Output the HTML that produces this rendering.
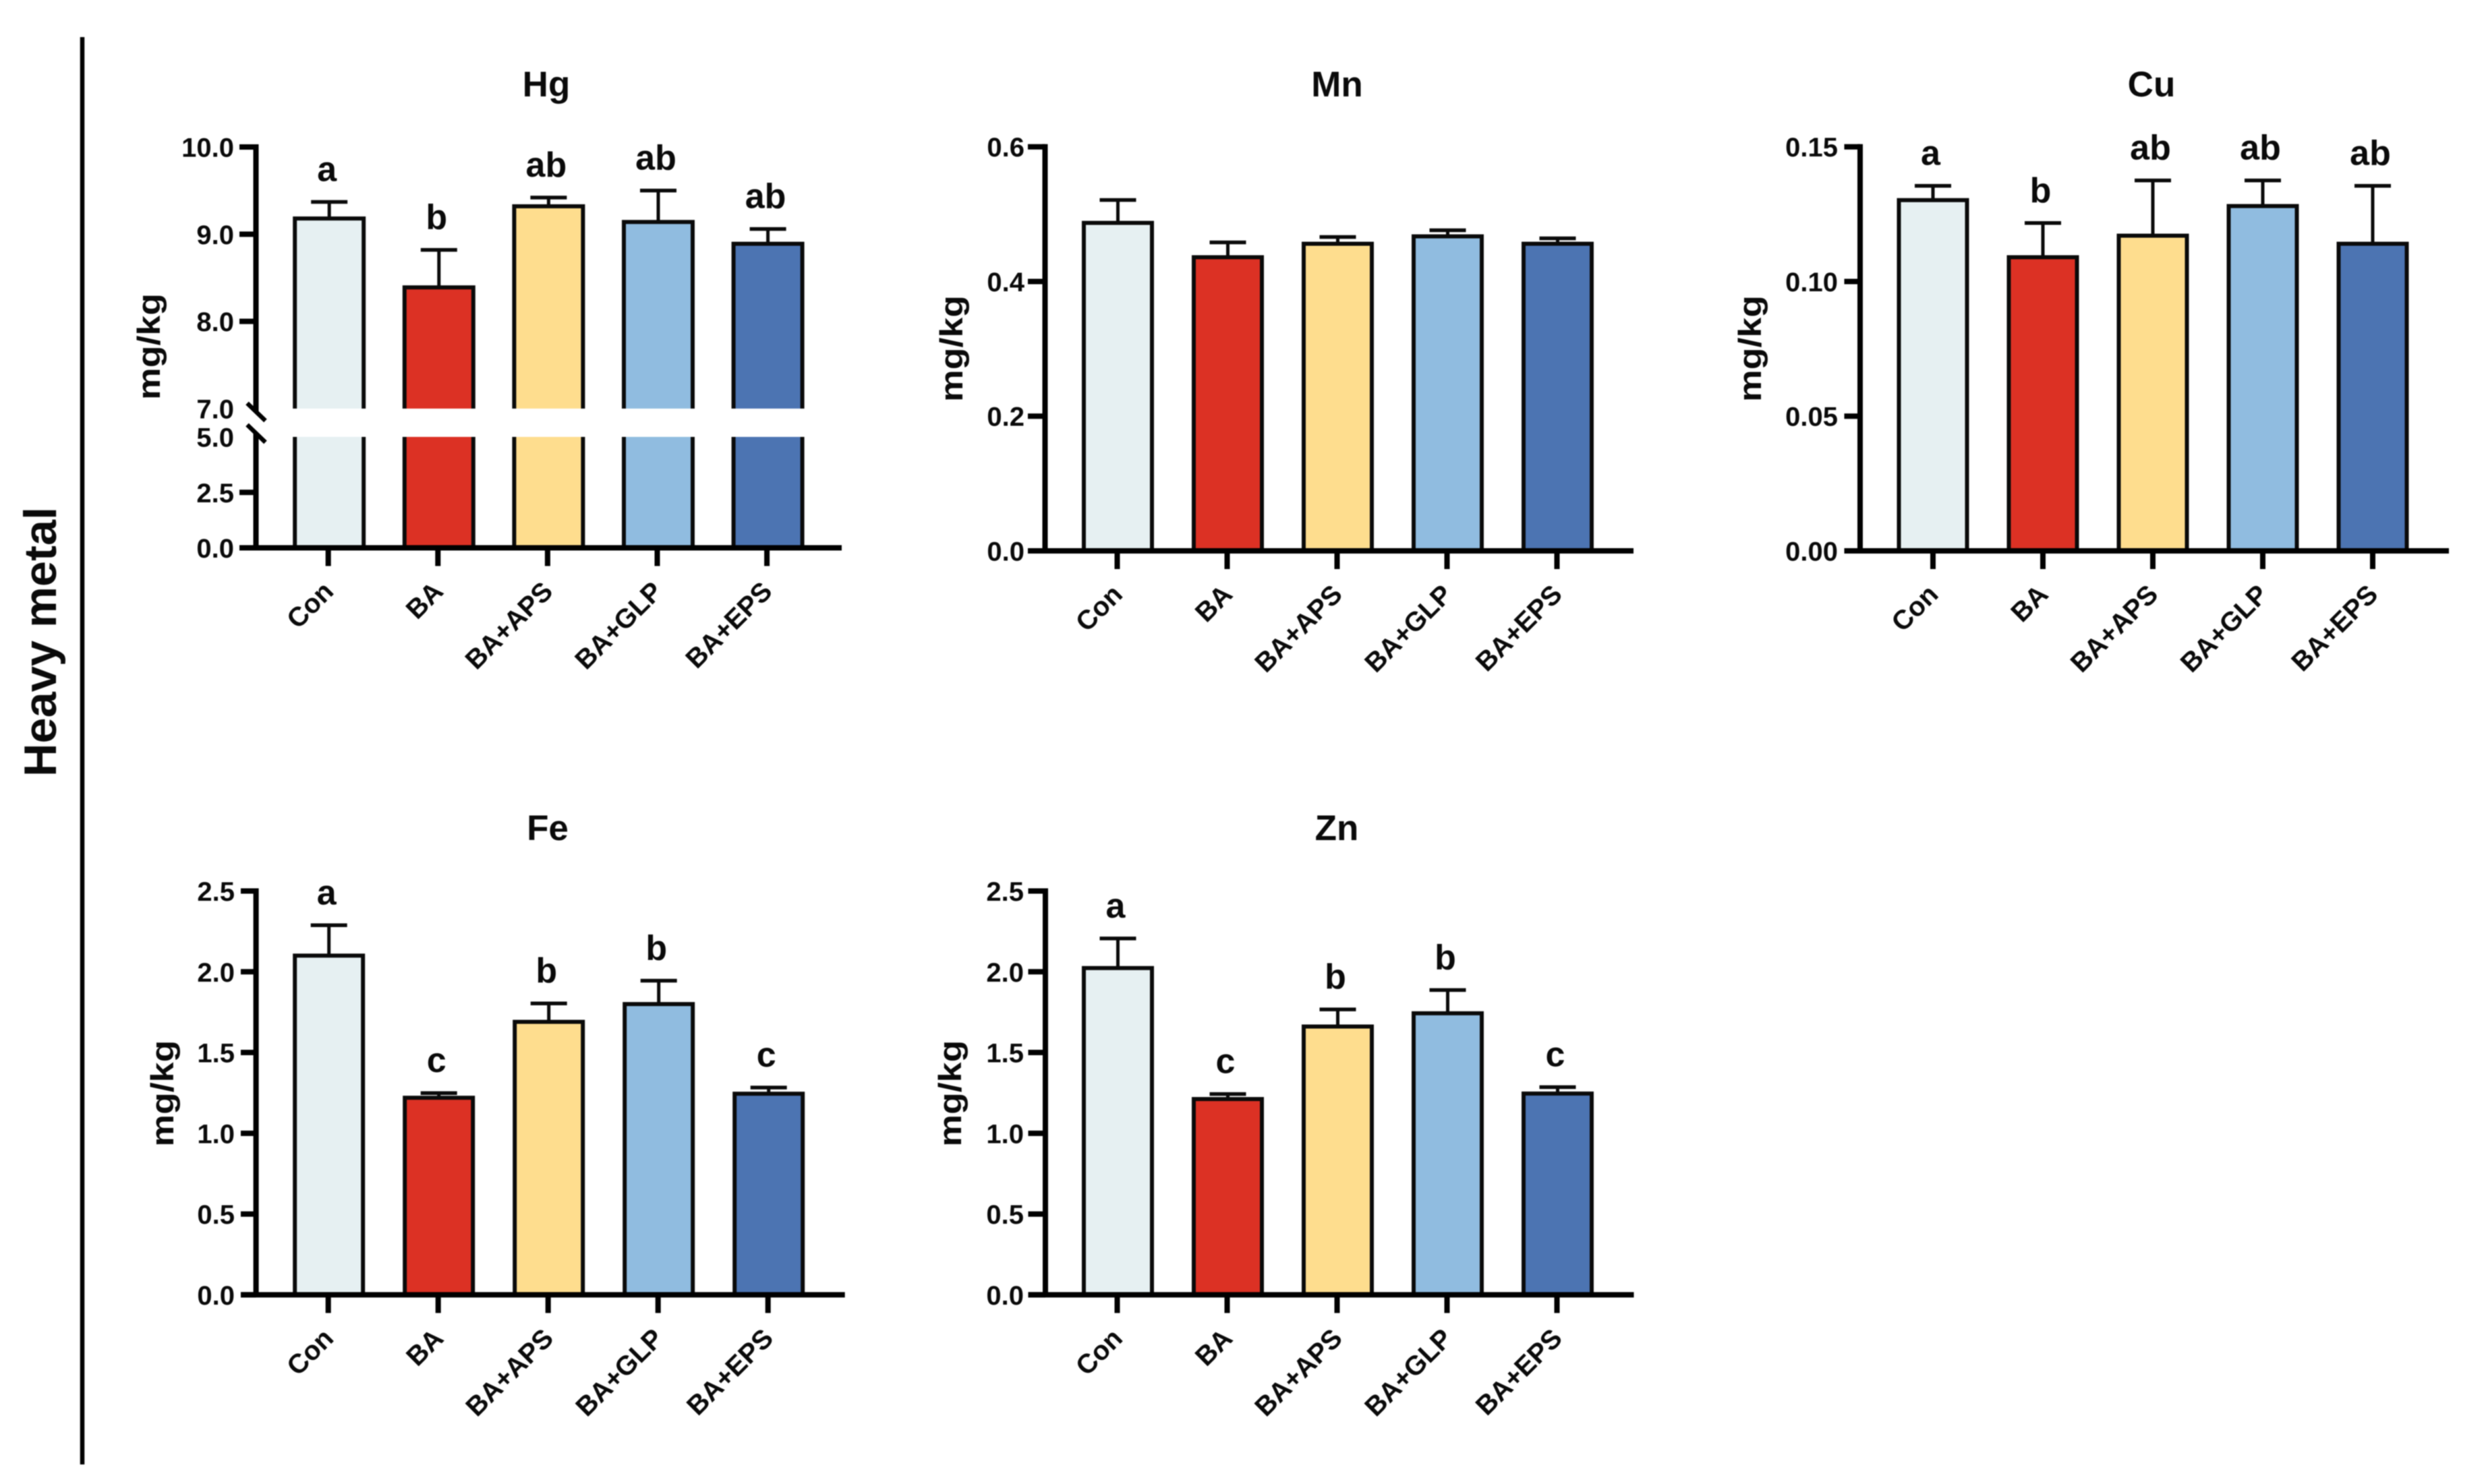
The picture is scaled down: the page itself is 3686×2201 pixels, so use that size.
<!DOCTYPE html>
<html lang="en">
<head>
<meta charset="utf-8">
<title>Heavy metal</title>
<style>
  html, body { margin: 0; padding: 0; background: #fff; }
  #figure { display: block; filter: blur(0.9px); font-family: "Liberation Sans", sans-serif; }
  text { font-family: "Liberation Sans", sans-serif; font-weight: bold; fill: #0a0a0a; }
</style>
</head>
<body>
<svg id="figure" xmlns="http://www.w3.org/2000/svg" width="3686" height="2201" viewBox="0 0 3686 2201">
  <rect width="3686" height="2201" fill="#fff"/>
  <line x1="122" y1="55" x2="122" y2="2172" stroke="#000" stroke-width="6.5"/>
  <text transform="translate(83 952) rotate(-90)" text-anchor="middle" font-size="68" textLength="400" lengthAdjust="spacingAndGlyphs">Heavy metal</text>
</svg>
<script>
const categories = ['Con', 'BA', 'BA+APS', 'BA+GLP', 'BA+EPS'];
const barColors = ['#e6f0f2', '#dc3124', '#fedd8e', '#90bce0', '#4c74b2'];

const hgMeans = [9.18, 8.39, 9.32, 9.14, 8.89];
const hgErrors = [0.19, 0.43, 0.10, 0.36, 0.17];
const hgLetters = ['a', 'b', 'ab', 'ab', 'ab'];
const hgTicks = ['0.0', '2.5', '5.0', '7.0', '8.0', '9.0', '10.0'];

const mnMeans = [0.487, 0.436, 0.456, 0.467, 0.456];
const mnErrors = [0.034, 0.022, 0.010, 0.009, 0.008];
const mnLetters = ['', '', '', '', ''];
const mnTicks = ['0.0', '0.2', '0.4', '0.6'];

const cuMeans = [0.1302, 0.109, 0.117, 0.128, 0.114];
const cuErrors = [0.0053, 0.0127, 0.0205, 0.0095, 0.0215];
const cuLetters = ['a', 'b', 'ab', 'ab', 'ab'];
const cuTicks = ['0.00', '0.05', '0.10', '0.15'];

const feMeans = [2.10, 1.22, 1.69, 1.80, 1.245];
const feErrors = [0.188, 0.029, 0.114, 0.145, 0.038];
const feLetters = ['a', 'c', 'b', 'b', 'c'];
const feTicks = ['0.0', '0.5', '1.0', '1.5', '2.0', '2.5'];

const znMeans = [2.023, 1.212, 1.661, 1.743, 1.246];
const znErrors = [0.183, 0.031, 0.106, 0.144, 0.040];
const znLetters = ['a', 'c', 'b', 'b', 'c'];
const znTicks = ['0.0', '0.5', '1.0', '1.5', '2.0', '2.5'];

const SVG_NS = 'http://www.w3.org/2000/svg';
const root = document.getElementById('figure');

function linearY(vMax, yZero, yTop) {
  return function (v) { return yZero - (v / vMax) * (yZero - yTop); };
}
function brokenY(v) {
  if (v <= 5) return 812.5 - (v / 5) * (812.5 - 648);
  return 606 - ((v - 7) / 3) * (606 - 218);
}

const panels = [
  { key: 'hg', title: 'Hg', means: hgMeans, errors: hgErrors, letters: hgLetters, ticks: hgTicks,
    y: brokenY, axisX: 379.5, axisY: 812.5, left: 355, right: 1248, topY: 218, first: 486.7, step: 162.6, barW: 108, barShift: 1.5,
    titleX: 810, titleY: 143, unitX: 237, unitY: 514, labelRight: 347, broken: true },
  { key: 'mn', title: 'Mn', means: mnMeans, errors: mnErrors, letters: mnLetters, ticks: mnTicks,
    y: linearY(0.6, 817, 217.7), axisX: 1549.5, axisY: 817, left: 1524, right: 2422, topY: 217.7, first: 1656.5, step: 163, barW: 107, barShift: 1,
    titleX: 1982.5, titleY: 143, unitX: 1427, unitY: 517, labelRight: 1519 },
  { key: 'cu', title: 'Cu', means: cuMeans, errors: cuErrors, letters: cuLetters, ticks: cuTicks,
    y: linearY(0.15, 817, 217.7), axisX: 2758, axisY: 817, left: 2734.5, right: 3631, topY: 217.7, first: 2866, step: 163, barW: 107, barShift: 0,
    titleX: 3190, titleY: 143, unitX: 2611, unitY: 517, labelRight: 2725 },
  { key: 'fe', title: 'Fe', means: feMeans, errors: feErrors, letters: feLetters, ticks: feTicks,
    y: linearY(2.5, 1920.4, 1321.5), axisX: 379.6, axisY: 1920.4, left: 357, right: 1252.7, topY: 1321.5, first: 486.7, step: 163, barW: 107, barShift: 1,
    titleX: 812, titleY: 1246, unitX: 257, unitY: 1621.6, labelRight: 348 },
  { key: 'zn', title: 'Zn', means: znMeans, errors: znErrors, letters: znLetters, ticks: znTicks,
    y: linearY(2.5, 1920.4, 1321.5), axisX: 1550, axisY: 1920.4, left: 1524.5, right: 2422.5, topY: 1321.5, first: 1656.5, step: 163, barW: 107, barShift: 1,
    titleX: 1982, titleY: 1246, unitX: 1425, unitY: 1621.6, labelRight: 1518 }
];

function make(tag, parent, attrs) {
  const node = document.createElementNS(SVG_NS, tag);
  Object.keys(attrs).forEach(function (k) { node.setAttribute(k, attrs[k]); });
  parent.appendChild(node);
  return node;
}

panels.forEach(function (p) {
  const group = make('g', root, {});
  
  

  const title = make('text', group, { x: p.titleX, y: p.titleY, 'text-anchor': 'middle', 'font-size': 53 });
  
  
  title.textContent = p.title;

  const unit = make('text', group, { transform: 'translate(' + p.unitX + ' ' + p.unitY + ') rotate(-90)', 'text-anchor': 'middle', 'font-size': 47, textLength: 158, lengthAdjust: 'spacingAndGlyphs' });
  
  
  unit.textContent = 'mg/kg';

  p.means.forEach(function (mean, i) {
    const cx = p.first + i * p.step + p.barShift;
    const half = p.barW / 2 - 3;
    const yTop = p.y(mean);
    const yErr = p.y(mean + p.errors[i]);

    const stem = make('line', group, { x1: cx, x2: cx, y1: yTop, y2: yErr, stroke: '#0a0a0a', 'stroke-width': 5 });
    
    

    const cap = make('line', group, { x1: cx - 27, x2: cx + 27, y1: yErr, y2: yErr, stroke: '#0a0a0a', 'stroke-width': 5.5 });
    
    

    const bar = make('rect', group, { x: cx - half, y: yTop, width: half * 2, height: p.axisY - yTop, fill: barColors[i], stroke: '#0a0a0a', 'stroke-width': 6 });
    
    

    if (p.letters[i]) {
      const letter = make('text', group, { x: cx - 3.5, y: yErr - 31, 'text-anchor': 'middle', 'font-size': 52 });
      
      
      letter.textContent = p.letters[i];
    }

    const tickX = p.first + i * p.step;
    const tick = make('line', group, { x1: tickX, x2: tickX, y1: p.axisY, y2: p.axisY + 27, stroke: '#000', 'stroke-width': 8 });
    
    

    const lx = tickX + 10;
    const ly = p.axisY + 67;
    const label = make('text', group, { transform: 'translate(' + lx + ' ' + ly + ') rotate(-45)', 'text-anchor': 'end', 'font-size': 40 });
    
    
    label.textContent = categories[i];
  });

  if (p.broken) {
    const gap = make('rect', group, { x: p.axisX + 10, y: p.y(7), width: p.right - p.axisX, height: p.y(5) - p.y(7), fill: '#fff' });
    
    

    const upperAxis = make('line', group, { x1: p.axisX, x2: p.axisX, y1: p.topY - 4, y2: p.y(7) + 5, stroke: '#000', 'stroke-width': 8 });
    
    

    const lowerAxis = make('line', group, { x1: p.axisX, x2: p.axisX, y1: p.y(5) - 5, y2: p.axisY, stroke: '#000', 'stroke-width': 8 });
    
    

    [7, 5].forEach(function (v) {
      const yb = p.y(v) + (v === 7 ? 5 : -5);
      const slash = make('line', group, { x1: p.axisX - 13, y1: yb - 13, x2: p.axisX + 14, y2: yb + 13, stroke: '#000', 'stroke-width': 6.5 });
      
      
    });
  } else {
    const yAxis = make('line', group, { x1: p.axisX, x2: p.axisX, y1: p.topY - 4, y2: p.axisY, stroke: '#000', 'stroke-width': 8 });
    
    
  }

  const xAxis = make('line', group, { x1: p.left, x2: p.right, y1: p.axisY, y2: p.axisY, stroke: '#000', 'stroke-width': 8 });
  
  

  p.ticks.forEach(function (t) {
    const v = parseFloat(t);
    const yy = p.y(v);
    const isBreak = p.broken && (v === 7 || v === 5);
    if (!isBreak) {
      const yTick = make('line', group, { x1: p.left, x2: p.axisX, y1: yy, y2: yy, stroke: '#000', 'stroke-width': 8 });
      
      
    }
    const yLabel = make('text', group, { x: p.labelRight, y: yy + 14.5, 'text-anchor': 'end', 'font-size': 40 });
    
    
    yLabel.textContent = t;
  });
});
</script>
</body>
</html>
